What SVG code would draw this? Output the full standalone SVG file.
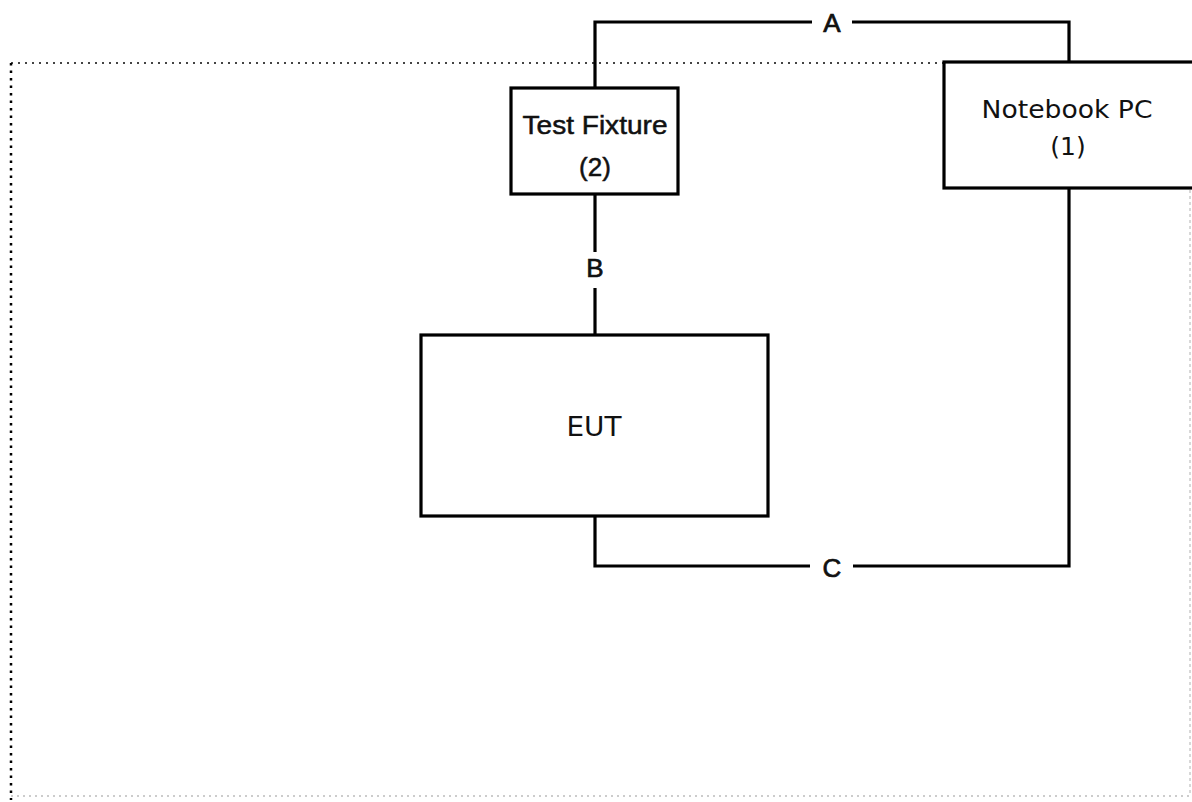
<svg xmlns="http://www.w3.org/2000/svg" width="1192" height="802" viewBox="0 0 1192 802">
<style>
.box{fill:#fff;stroke:#000;stroke-width:3.2}
.wire{fill:none;stroke:#000;stroke-width:3.2}
.t{font-family:"Liberation Sans",Arial,sans-serif;fill:#111;text-anchor:middle}
.d{font-family:"DejaVu Sans","Liberation Sans",sans-serif;fill:#111;text-anchor:middle}
.lbl{font-family:"Liberation Sans",Arial,sans-serif;fill:#111;text-anchor:middle;font-size:26px;stroke:#111;stroke-width:0.7}
</style>
<rect width="1192" height="802" fill="#fff"/>
<g id="border">
<line x1="11" y1="63" x2="944" y2="63" stroke="#444" stroke-width="2" stroke-dasharray="2 5"/>
<line x1="11" y1="63" x2="11" y2="800" stroke="#000" stroke-width="2.5" stroke-dasharray="2.5 5"/>
<line x1="11" y1="796" x2="1190" y2="796" stroke="#ccc" stroke-width="2" stroke-dasharray="2 4"/>
<line x1="1190" y1="190" x2="1190" y2="796" stroke="#ccc" stroke-width="1.5" stroke-dasharray="3 3"/>
</g>
<g id="connectors">
<polyline class="wire" points="595,88 595,22 812,22"/>
<polyline class="wire" points="852,22 1069,22 1069,62"/>
<line class="wire" x1="595" y1="194" x2="595" y2="252"/>
<line class="wire" x1="595" y1="288" x2="595" y2="335"/>
<polyline class="wire" points="595,516 595,566 810,566"/>
<polyline class="wire" points="853,566 1069,566 1069,188"/>
<text class="lbl" x="832" y="32">A</text>
<text class="lbl" x="595" y="277">B</text>
<text class="lbl" x="832" y="577">C</text>
</g>
<g id="test-fixture">
<rect class="box" x="511" y="88" width="167" height="106"/>
<text class="t" x="595" y="134" font-size="26" textLength="145" lengthAdjust="spacingAndGlyphs" stroke="#111" stroke-width="0.5">Test Fixture</text>
<text class="t" x="595" y="176" font-size="26" stroke="#111" stroke-width="0.5">(2)</text>
</g>
<g id="notebook-pc">
<rect class="box" x="944" y="62" width="252" height="126"/>
<text class="d" x="1067" y="118" font-size="25" textLength="171" lengthAdjust="spacingAndGlyphs">Notebook PC</text>
<text class="d" x="1068" y="155" font-size="25">(1)</text>
</g>
<g id="eut">
<rect class="box" x="421" y="335" width="347" height="181"/>
<text class="d" x="594" y="436" font-size="26" textLength="55" lengthAdjust="spacingAndGlyphs">EUT</text>
</g>
</svg>
